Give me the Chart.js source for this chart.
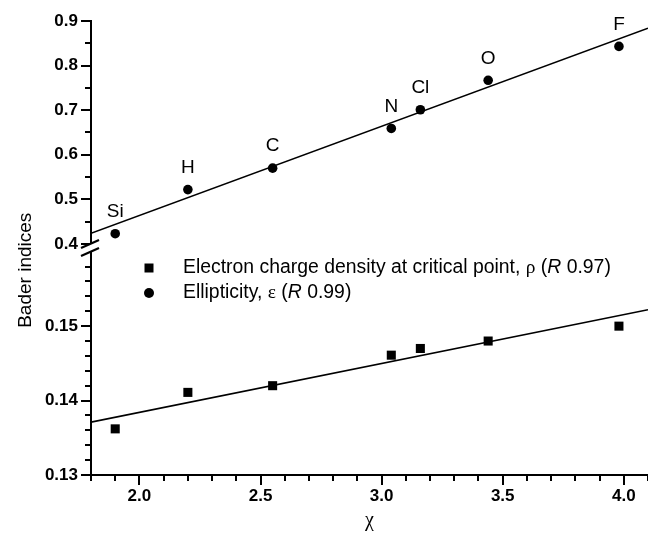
<!DOCTYPE html>
<html><head><meta charset="utf-8">
<script src="https://cdn.jsdelivr.net/npm/chart.js@4.4.1/dist/chart.umd.min.js"></script>
<style>html,body{margin:0;padding:0;background:#fff;overflow:hidden;} #wrap{width:648px;height:539px;position:relative;}</style>
</head><body><div id="wrap"><canvas id="c"></canvas></div>
<script>
// ---- data ----
const elements = ['Si', 'H', 'C', 'N', 'Cl', 'O', 'F'];
const electronegativity = [1.90, 2.20, 2.55, 3.04, 3.16, 3.44, 3.98];
const rhoValues = [0.1362, 0.1411, 0.1420, 0.1461, 0.1470, 0.1480, 0.1500];
const ellipticityValues = [0.423, 0.522, 0.570, 0.659, 0.701, 0.767, 0.843];
const fitX = [1.8, 4.1];
const rhoFit = [0.1371, 0.1522];
const ellipticityFit = [0.424, 0.884];
const seriesNames = ['Electron charge density at critical point, ρ (R 0.97)', 'Ellipticity, ε (R 0.99)'];
const xTitle = 'χ';
const yTitle = 'Bader indices';
// ---- tick labels / tick marks ----
const xMajorTicks = [2.0, 2.5, 3.0, 3.5, 4.0];
const xMinorTicks = [1.8, 1.9, 2.1, 2.2, 2.3, 2.4, 2.6, 2.7, 2.8, 2.9, 3.1, 3.2, 3.3, 3.4, 3.6, 3.7, 3.8, 3.9, 4.1];
const topMajorTicks = [0.4, 0.5, 0.6, 0.7, 0.8, 0.9];
const topMinorTicks = [0.45, 0.55, 0.65, 0.75, 0.85];
const bottomMajorTicks = [0.13, 0.14, 0.15];
const bottomMinorTicks = [0.132, 0.134, 0.136, 0.138, 0.142, 0.144, 0.146, 0.148, 0.152, 0.154, 0.156, 0.158];

const SANS = "'Liberation Sans', Arial, sans-serif";
const SERIF = "'Liberation Serif', 'Times New Roman', serif";
const BLACK = '#000';

const toPts = (xs, ys) => xs.map((x, i) => ({x: x, y: ys[i]}));

function drawRich(ctx, text, x, y, size) {
  const parts = text.split(/(ρ|ε|R(?= \d))/).filter(p => p.length);
  let cx = x;
  ctx.textAlign = 'left';
  ctx.textBaseline = 'middle';
  for (const p of parts) {
    if (p === 'ρ' || p === 'ε') ctx.font = size + 'px ' + SERIF;
    else if (p === 'R') ctx.font = 'italic ' + size + 'px ' + SANS;
    else ctx.font = size + 'px ' + SANS;
    ctx.fillText(p, cx, y);
    cx += ctx.measureText(p).width;
  }
}

const decorations = {
  id: 'decorations',
  afterDraw(chart) {
    const ctx = chart.ctx;
    const ca = chart.chartArea;
    const sx = chart.scales.x, st = chart.scales.yTop, sb = chart.scales.yBot;
    ctx.save();
    ctx.strokeStyle = BLACK;
    ctx.fillStyle = BLACK;
    ctx.lineWidth = 2;
    // tick marks
    const ax = ca.left - 1;
    const yTick = (scale, vals, len) => vals.forEach(v => {
      const p = Math.round(scale.getPixelForValue(v));
      ctx.beginPath(); ctx.moveTo(ax - len, p); ctx.lineTo(ax, p); ctx.stroke();
    });
    yTick(st, topMajorTicks, 9); yTick(st, topMinorTicks, 5);
    yTick(sb, bottomMajorTicks, 9); yTick(sb, bottomMinorTicks, 5);
    const ay = ca.bottom + 1;
    const xTick = (vals, len) => vals.forEach(v => {
      const p = Math.round(sx.getPixelForValue(v));
      ctx.beginPath(); ctx.moveTo(p, ay); ctx.lineTo(p, ay + len); ctx.stroke();
    });
    xTick(xMajorTicks, 9); xTick(xMinorTicks, 5);
    // axis break
    const b = st.bottom;
    ctx.fillStyle = '#fff';
    ctx.fillRect(ax - 3, b - 4, 6, 8);
    ctx.fillStyle = BLACK;
    ctx.lineWidth = 2.2;
    [-4, 4].forEach(d => {
      ctx.beginPath();
      ctx.moveTo(ax - 9, b + d + 4);
      ctx.lineTo(ax + 9, b + d - 4);
      ctx.stroke();
    });
    ctx.lineWidth = 2;
    // point labels for ellipticity
    const meta = chart.getDatasetMeta(1);
    ctx.font = '19px ' + SANS;
    ctx.textAlign = 'center';
    ctx.textBaseline = 'middle';
    meta.data.forEach((pt, i) => ctx.fillText(elements[i], pt.x, pt.y - 22));
    // legend
    const lx = ca.left + 58, ly = ca.top + 247, gap = 25;
    chart.data.datasets.slice(0, 2).forEach((ds, i) => {
      const y = ly + i * gap;
      ctx.beginPath();
      if (ds.pointStyle === 'rect') {
        ctx.rect(lx - 4.5, y - 4.5, 9, 9);
      } else {
        ctx.arc(lx, y, 5, 0, Math.PI * 2);
      }
      ctx.fill();
      drawRich(ctx, seriesNames[i], lx + 34, y, 19.4);
    });
    // titles
    ctx.font = '19px ' + SANS;
    ctx.save();
    ctx.translate(31, ca.top + ca.height * 0.549);
    ctx.rotate(-Math.PI / 2);
    ctx.textAlign = 'center';
    ctx.textBaseline = 'alphabetic';
    ctx.fillText(yTitle, 0, 0);
    ctx.restore();
    ctx.font = '20px ' + SERIF;
    ctx.textAlign = 'center';
    ctx.textBaseline = 'middle';
    ctx.fillText(xTitle, (ca.left + ca.right) / 2, ca.bottom + 46);
    ctx.restore();
  }
};

const tickFont = {family: SANS, size: 17, weight: 'bold'};
const yCommon = {
  type: 'linear', position: 'left', stack: 'y',
  grid: {display: false, drawTicks: false},
  border: {display: true, color: BLACK, width: 2},
  afterFit: s => { s.width = 91; s.paddingTop = 0; s.paddingBottom = 0; }
};

new Chart(document.getElementById('c'), {
  type: 'scatter',
  data: {
    datasets: [
      {label: seriesNames[0], data: toPts(electronegativity, rhoValues), yAxisID: 'yBot',
       pointStyle: 'rect', pointRadius: 6.4, backgroundColor: BLACK, borderColor: BLACK, borderWidth: 0},
      {label: seriesNames[1], data: toPts(electronegativity, ellipticityValues), yAxisID: 'yTop',
       pointStyle: 'circle', pointRadius: 4.8, backgroundColor: BLACK, borderColor: BLACK, borderWidth: 0},
      {label: 'rho fit', data: toPts(fitX, rhoFit), yAxisID: 'yBot', showLine: true,
       pointRadius: 0, borderColor: BLACK, borderWidth: 1.6, fill: false},
      {label: 'eps fit', data: toPts(fitX, ellipticityFit), yAxisID: 'yTop', showLine: true,
       pointRadius: 0, borderColor: BLACK, borderWidth: 1.6, fill: false}
    ]
  },
  options: {
    responsive: true,
    maintainAspectRatio: false,
    animation: false,
    devicePixelRatio: 1,
    layout: {autoPadding: false, padding: {top: 21, right: 0, left: 0, bottom: 0}},
    plugins: {legend: {display: false}, tooltip: {enabled: false}},
    scales: {
      x: {
        type: 'linear', position: 'bottom', min: 1.8, max: 4.1,
        afterBuildTicks: s => { s.ticks = xMajorTicks.map(v => ({value: v})); },
        ticks: {padding: 11, font: tickFont, color: BLACK, maxRotation: 0, autoSkip: false,
                callback: v => Number(v).toFixed(1)},
        grid: {display: false, drawTicks: false},
        border: {display: true, color: BLACK, width: 2},
        afterFit: s => { s.height = 64; s.paddingLeft = 0; s.paddingRight = 0; }
      },
      yBot: Object.assign({}, yCommon, {
        min: 0.13, max: 0.1605, stackWeight: 227,
        afterBuildTicks: s => { s.ticks = bottomMajorTicks.map(v => ({value: v})); },
        ticks: {padding: 13, font: tickFont, color: BLACK, autoSkip: false,
                callback: v => Number(v).toFixed(2)}
      }),
      yTop: Object.assign({}, yCommon, {
        min: 0.391, max: 0.9, stackWeight: 227,
        afterBuildTicks: s => { s.ticks = topMajorTicks.map(v => ({value: v})); },
        ticks: {padding: 13, font: tickFont, color: BLACK, autoSkip: false,
                callback: v => Number(v).toFixed(1)}
      })
    }
  },
  plugins: [decorations]
});
</script>
</body></html>
